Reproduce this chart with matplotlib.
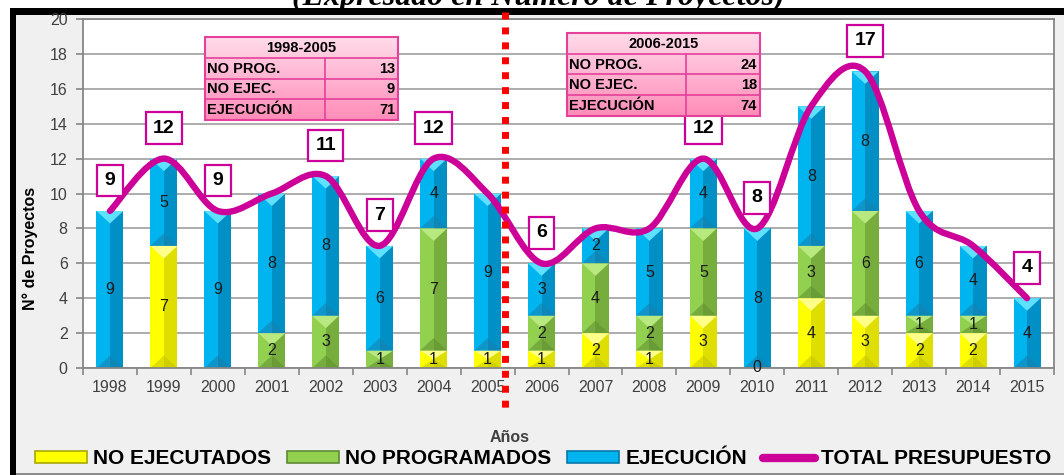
import numpy as np
import matplotlib
matplotlib.use("Agg")
import matplotlib.pyplot as plt
from matplotlib.path import Path
from matplotlib.patches import PathPatch, Rectangle, Patch
from matplotlib.lines import Line2D
from matplotlib.colors import LinearSegmentedColormap
import matplotlib.transforms as mtransforms

# ---------------- data ----------------
years = ['1998', '1999', '2000', '2001', '2002', '2003', '2004', '2005', '2006',
         '2007', '2008', '2009', '2010', '2011', '2012', '2013', '2014', '2015']
nan = np.nan
no_ejecutados = [nan, 7, nan, nan, nan, nan, 1, 1, 1, 2, 1, 3, 0, 4, 3, 2, 2, nan]
no_programados = [nan, nan, nan, 2, 3, 1, 7, nan, 2, 4, 2, 5, nan, 3, 6, 1, 1, nan]
ejecucion = [9, 5, 9, 8, 8, 6, 4, 9, 3, 2, 5, 4, 8, 8, 8, 6, 4, 4]
total_presupuesto = [9, 12, 9, 10, 11, 7, 12, 10, 6, 8, 8, 12, 8, 15, 17, 9, 7, 4]
boxed_years = ['1998', '1999', '2000', '2002', '2003', '2004', '2006', '2009',
               '2010', '2012', '2015']
series_names = ['NO EJECUTADOS', 'NO PROGRAMADOS', 'EJECUCIÓN', 'TOTAL PRESUPUESTO']
period_labels = ['1998-2005', '2006-2015']
table_rows = ['NO PROG.', 'NO EJEC.', 'EJECUCIÓN']
table_values = [[13, 9, 71], [24, 18, 74]]
split_position = 7.32   # position of the dotted separator, in category units

# ---------------- style ----------------
W, H = 1064, 475
SANS = ['Liberation Sans', 'DejaVu Sans']
plt.rcParams['font.family'] = ['Liberation Sans', 'DejaVu Sans']

def fx(px):
    return px / W

def fy(py):
    return 1 - py / H

fig = plt.figure(figsize=(W / 100, H / 100), dpi=100)
fig.patch.set_facecolor('white')

# chart area frame
fig.patches.append(Rectangle((fx(10), 0), 1 - fx(10), fy(8), transform=fig.transFigure,
                             facecolor='#f0f0f0', edgecolor='none', zorder=-3))
fig.patches.append(Rectangle((fx(10), fy(15)), 1 - fx(10), 7 / H, transform=fig.transFigure,
                             facecolor='black', edgecolor='none', zorder=-2))
fig.patches.append(Rectangle((fx(10), 0), 6 / W, fy(8), transform=fig.transFigure,
                             facecolor='black', edgecolor='none', zorder=-2))
fig.patches.append(Rectangle((fx(16), 0), 1 - fx(16), 2 / H, transform=fig.transFigure,
                             facecolor='#8c8c8c', edgecolor='none', zorder=-2))

fig.text(fx(538), fy(4.5), '(Expresado en Número de Proyectos)', ha='center', va='baseline',
         family=['Liberation Serif', 'DejaVu Serif'], fontweight='bold', fontstyle='italic',
         fontsize=23, color='black')

ax = fig.add_axes([fx(83), fy(368), fx(1054) - fx(83), (368 - 19) / H])
ax.set_facecolor('white')
n = len(years)
x = np.arange(n)
ax.set_xlim(-0.5, n - 0.5)
ax.set_ylim(0, 20)
ax.set_yticks(np.arange(0, 21, 2))
ax.set_xticks(np.arange(-0.5, n, 1))
ax.set_xticklabels([])
ax.set_xticks(x, minor=True)
ax.set_xticklabels(years, minor=True)
ax.tick_params(axis='x', which='major', length=5, width=1.2, color='#868686', direction='out')
ax.tick_params(axis='x', which='minor', length=0, pad=9, labelsize=11.5, labelcolor='#404040')
ax.tick_params(axis='y', length=5, width=1.2, color='#868686', direction='out', pad=6,
               labelsize=11.5, labelcolor='#404040')
ax.yaxis.grid(True, color='#a6a6a6', linewidth=1.3)
ax.set_axisbelow(True)
for sp in ax.spines.values():
    sp.set_color('#868686')
    sp.set_linewidth(1.3)

# ---------------- bars ----------------
w = 0.5
palettes = [
    dict(base='#ffff00', dark='#dede00', top='#ffff8a', bot='#c4c400', edge='#a8a800'),
    dict(base='#92d050', dark='#76ad3c', top='#b8e880', bot='#5f8f30', edge='#5f8a35'),
    dict(base='#00b4f0', dark='#0090c6', top='#5ee0ff', bot='#1a7fae', edge='#0a78a8'),
]
bottoms = np.zeros(n)
for series, pal in zip([no_ejecutados, no_programados, ejecucion], palettes):
    vals = np.array(series, dtype=float)
    h = np.nan_to_num(vals)
    for i in range(n):
        if h[i] > 0:
            b, hh = bottoms[i], h[i]
            ax.bar(x[i], hh, w, b, color=pal['base'], linewidth=0, zorder=2)
            ax.bar(x[i] + w / 4, hh, w / 2, b, color=pal['dark'], linewidth=0, zorder=2.1)
            d = min(0.72, hh / 2)
            ax.fill([x[i] - w / 2, x[i] + w / 2, x[i]], [b + hh, b + hh, b + hh - d],
                    color=pal['top'], lw=0, zorder=2.2)
            ax.fill([x[i] - w / 2, x[i] + w / 2, x[i]], [b, b, b + d],
                    color=pal['bot'], lw=0, zorder=2.2, alpha=0.55)
        if not np.isnan(vals[i]):
            ax.text(x[i], bottoms[i] + h[i] / 2, f'{int(vals[i])}', ha='center', va='center',
                    fontsize=11.5, color='#1a1a1a', zorder=3, clip_on=False)
    bottoms = bottoms + h

# ---------------- smoothed total line ----------------
ys = np.array(total_presupuesto, dtype=float)
pts = np.column_stack([x, ys])
verts = [pts[0]]
codes = [Path.MOVETO]
for i in range(n - 1):
    p0 = pts[i - 1] if i > 0 else pts[i]
    p1 = pts[i]
    p2 = pts[i + 1]
    p3 = pts[i + 2] if i + 2 < n else pts[i + 1]
    verts += [p1 + (p2 - p0) / 6, p2 - (p3 - p1) / 6, p2]
    codes += [Path.CURVE4] * 3
line_color = '#cc0099'
ax.add_patch(PathPatch(Path(verts, codes), fill=False, edgecolor=line_color, lw=4.6,
                       capstyle='round', joinstyle='round', zorder=4))

for i, yr in enumerate(years):
    if yr in boxed_years:
        ax.annotate(f'{total_presupuesto[i]}', (x[i], ys[i]), xytext=(0, 22),
                    textcoords='offset points', ha='center', va='center', fontsize=14,
                    fontweight='bold', color='black', zorder=6, annotation_clip=False,
                    bbox=dict(boxstyle='square,pad=0.38', fc='white', ec=line_color, lw=1.6))

# ---------------- dotted separator ----------------
trans = mtransforms.blended_transform_factory(ax.transData, ax.transAxes)
ax.plot([split_position, split_position], [1.02, -0.133], transform=trans, color='#ff0000',
        lw=5, linestyle=(0, (1, 1.15)), dash_capstyle='butt', clip_on=False, zorder=5)

# ---------------- summary tables ----------------
pink = LinearSegmentedColormap.from_list('pk', ['#ffdcea', '#ff8cb8'])
grad = np.linspace(0, 1, 256).reshape(-1, 1)

def draw_table(x0, y0, x1, y1, xsplit, title, values):
    tax = fig.add_axes([fx(x0), fy(y1), fx(x1) - fx(x0), (y1 - y0) / H])
    tax.set_xlim(0, 1)
    tax.set_ylim(4, 0)
    tax.imshow(grad, cmap=pink, aspect='auto', extent=(0, 1, 4, 0), zorder=0)
    tax.axis('off')
    ec = '#e5409a'
    for yy in (1, 2, 3):
        tax.plot([0, 1], [yy, yy], color=ec, lw=1.2)
    s = (xsplit - x0) / (x1 - x0)
    tax.plot([s, s], [1, 4], color=ec, lw=1.2)
    tax.add_patch(Rectangle((0, 0), 1, 4, fill=False, ec=ec, lw=1.5, clip_on=False))
    tax.text(0.5, 0.52, title, ha='center', va='center', fontsize=10.5, fontweight='bold')
    for r, (lab, v) in enumerate(zip(table_rows, values)):
        tax.text(0.012, r + 1.52, lab, ha='left', va='center', fontsize=10.5, fontweight='bold')
        tax.text(0.985, r + 1.52, f'{v}', ha='right', va='center', fontsize=10.5,
                 fontweight='bold')

draw_table(205, 37, 398, 120, 325, period_labels[0], table_values[0])
draw_table(567, 33, 760, 116, 686, period_labels[1], table_values[1])

# ---------------- axis titles ----------------
fig.text(fx(30), fy(248), 'N° de Proyectos', rotation=90, ha='center', va='center',
         fontsize=11.5, fontweight='bold', color='black')
fig.text(fx(510), fy(437), 'Años', ha='center', va='center', fontsize=11.5,
         fontweight='bold', color='#404040')

# ---------------- legend ----------------
handles = [Patch(facecolor=p['base'], edgecolor=p['edge'], linewidth=1.2) for p in palettes]
handles.append(Line2D([0], [0], color=line_color, lw=6, solid_capstyle='round'))
fig.legend(handles, series_names, loc='center', bbox_to_anchor=(fx(543), fy(459)), ncol=4,
           frameon=False, prop=dict(size=15, weight='bold'), handlelength=2.5,
           handleheight=0.5, handletextpad=0.3, columnspacing=0.75, borderpad=0,
           borderaxespad=0)

fig.savefig('out.png', dpi=100, facecolor=fig.get_facecolor())
